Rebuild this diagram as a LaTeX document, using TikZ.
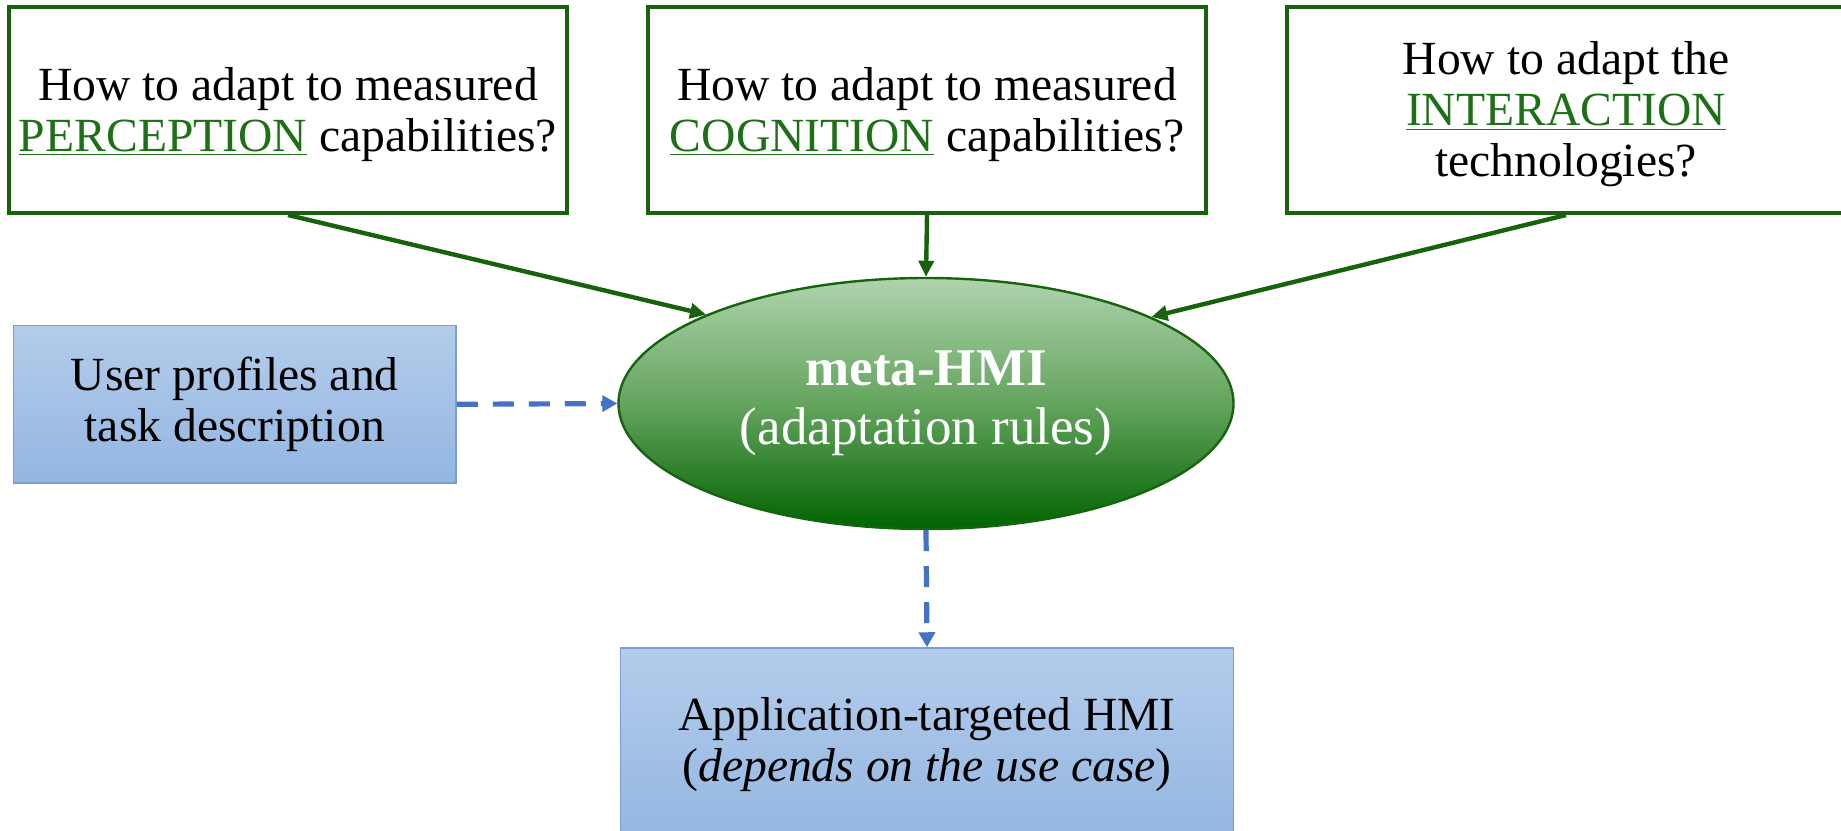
\documentclass[tikz,border=0pt]{standalone}
\usepackage{fontspec}
\setmainfont{Liberation Serif}
\usetikzlibrary{arrows.meta,shapes.geometric}

\definecolor{boxgreen}{RGB}{24,98,14}
\definecolor{wordgreen}{RGB}{30,112,22}
\definecolor{ellborder}{RGB}{22,100,14}
\definecolor{elltop}{RGB}{176,211,174}
\definecolor{ellmid}{RGB}{100,164,94}
\definecolor{ellbot}{RGB}{0,100,0}
\definecolor{bluetop}{RGB}{180,204,234}
\definecolor{bluebot}{RGB}{147,182,226}
\definecolor{blueedge}{RGB}{122,158,212}
\definecolor{arrowblue}{RGB}{68,114,196}

\tikzset{
  qbox/.style={draw=boxgreen, line width=2pt, fill=white, minimum width=279pt,
    minimum height=103pt, inner sep=0pt, align=center,
    font=\fontsize{23.8}{25.5}\selectfont},
  bluebox/.style={draw=blueedge, line width=0.75pt, top color=bluetop,
    bottom color=bluebot, inner sep=0pt, align=center,
    font=\fontsize{23.8}{25.5}\selectfont},
  metaell/.style={ellipse, draw=ellborder, line width=1.2pt, top color=elltop,
    bottom color=ellbot, middle color=ellmid, minimum width=307.5pt,
    minimum height=125.5pt, inner sep=0pt, align=center, text=white,
    font=\fontsize{26.5}{29.3}\selectfont},
  garrow/.style={draw=boxgreen, line width=2.2pt,
    -{Triangle[length=8pt,width=7.5pt]}},
  barrow/.style={draw=arrowblue, line width=2.6pt, dash pattern=on 10.5pt off 7.5pt,
    -{Triangle[length=7.5pt,width=8pt]}},
}
\newcommand{\kword}[1]{\textcolor{wordgreen}{\underline{#1}}}
\newcommand{\tstrut}{\rule{0pt}{21pt}}

\begin{document}
\begin{tikzpicture}[x=0.5pt,y=-0.5pt]
\useasboundingbox (0,0) rectangle (1841,830);

\node[qbox] (b1) at (288,110) {\tstrut How to adapt to measured\\\kword{PERCEPTION} capabilities?};
\node[qbox] (b2) at (927,110) {\tstrut How to adapt to measured\\\kword{COGNITION} capabilities?};
\node[qbox] (b3) at (1566,110) {\tstrut How to adapt the\\\kword{INTERACTION}\\technologies?};

\node[metaell] (e) at (926,403.5) {\textbf{meta-HMI}\\(adaptation rules)};

\node[bluebox, minimum width=221.25pt, minimum height=78.6pt] (lb) at (234.75,404.3)
  {User profiles and\\task description};

\begin{scope}
\clip (0,0) rectangle (1841,830);
\node[bluebox, minimum width=306.5pt, minimum height=97pt] (bb) at (927,745)
  {Application-targeted HMI\\(\textit{depends on the use case})};
\end{scope}

\draw[garrow] (b1.south) -- (e.158.5);
\draw[garrow] (b2.south) -- (e.north);
\draw[garrow] (b3.south) -- (e.21.5);
\draw[barrow] (lb.east) -- (e.west);
\draw[barrow] (e.south) -- (bb.north);
\end{tikzpicture}
\end{document}
